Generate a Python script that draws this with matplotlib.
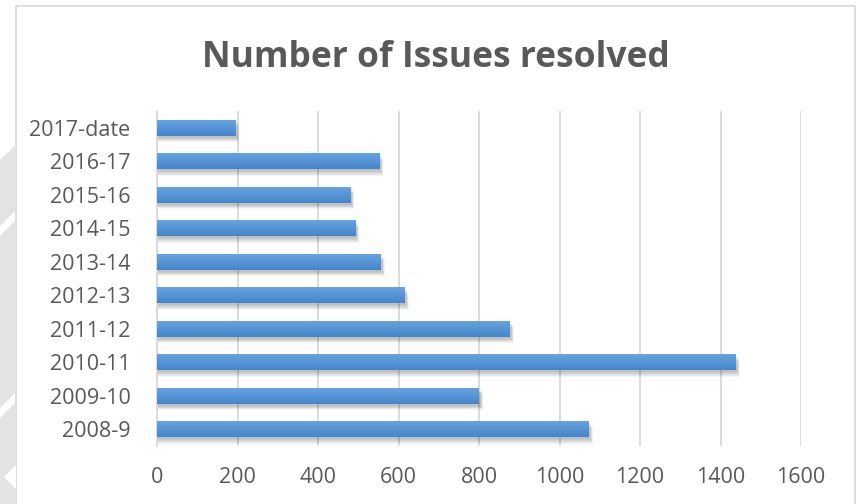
#! /usr/bin/env python3

# import libraries
import numpy as np
import matplotlib
matplotlib.use("Agg")
import matplotlib.pyplot as plt
from matplotlib.patches import Rectangle, Polygon
from matplotlib.colors import LinearSegmentedColormap


# data
lst_year = ["2008-9", "2009-10", "2010-11", "2011-12", "2012-13",
            "2013-14", "2014-15", "2015-16", "2016-17", "2017-date"]
lst_issues = [1073, 800, 1438, 877, 616, 556, 492, 480, 552, 194]
lst_xtick = [0, 200, 400, 600, 800, 1000, 1200, 1400, 1600]


# set matplotlib parameters
plt.rcParams["font.family"] = ["Open Sans", "DejaVu Sans"]
plt.rcParams["figure.dpi"] = 100

W, H = 859, 504
fig = plt.figure(figsize=(W / 100, H / 100), dpi=100)
fig.patch.set_facecolor("white")

# chart frame and grey marks on the left edge
fig.add_artist(Rectangle((16 / W, -0.01), (855 - 16) / W, 1 - 6 / H + 0.01,
                         transform=fig.transFigure, fill=False,
                         edgecolor="#d9d9d9", linewidth=1.2))
for pts in [[(0, 160), (16, 145), (16, 210), (0, 226)],
            [(0, 236), (16, 220), (16, 392), (0, 408)],
            [(0, 418), (16, 402), (16, 504), (0, 504)]]:
    fig.add_artist(Polygon([(x / W, 1 - y / H) for x, y in pts],
                           transform=fig.transFigure, facecolor="#e3e3e3",
                           edgecolor="none"))
fig.add_artist(Polygon([(4 / W, 1 - 477 / H), (16 / W, 1 - 465 / H), (16 / W, 1 - 489 / H)],
                       transform=fig.transFigure, facecolor="white", edgecolor="none"))

# axes
ax = fig.add_axes([157 / W, 1 - 446 / H, (801 - 157) / W, (446 - 111) / H])

y = np.arange(len(lst_year))
bh = 0.48
bars = ax.barh(y, lst_issues, height=bh, color="none", zorder=3)

# pixel size in data units
px_x = 1600 / (801 - 157)
px_y = 10 / (446 - 111)

# shadows and gradient fill
cmap = LinearSegmentedColormap.from_list("bar", ["#4486cc", "#6aa5df"])
grad = np.linspace(0, 1, 64).reshape(-1, 1)
for b in bars:
    x0, y0, w, h = b.get_x(), b.get_y(), b.get_width(), b.get_height()
    for k in range(6):
        ax.add_patch(Rectangle((x0 + px_x * (1 - k * 0.3), y0 - px_y * (2 + k * 0.9)),
                               w + px_x * (0.5 + k * 0.8), h,
                               facecolor="black", alpha=0.045, edgecolor="none", zorder=2))
    im = ax.imshow(grad, extent=[x0, x0 + w, y0, y0 + h], origin="lower",
                   cmap=cmap, aspect="auto", zorder=3, interpolation="bilinear")
    im.set_clip_path(b)

ax.set_xlim(0, 1600)
ax.set_ylim(-0.5, len(lst_year) - 0.5)
ax.set_xticks(lst_xtick)
ax.set_yticks(y)
ax.set_yticklabels(lst_year)
ax.xaxis.grid(True, color="#d9d9d9", linewidth=1.3, zorder=0)
ax.set_axisbelow(True)
ax.tick_params(axis="both", length=0, labelsize=15.5, colors="#595959")
ax.tick_params(axis="x", pad=15)
ax.tick_params(axis="y", pad=19)
for s in ["top", "right", "bottom"]:
    ax.spines[s].set_visible(False)
ax.spines["left"].set_color("#d9d9d9")
ax.spines["left"].set_linewidth(1.3)

fig.text(436 / W, 1 - 67 / H, "Number of Issues resolved", ha="center", va="baseline",
         fontsize=25.5, fontweight="bold", color="#595959")

fig.savefig("out.png", dpi=100)
